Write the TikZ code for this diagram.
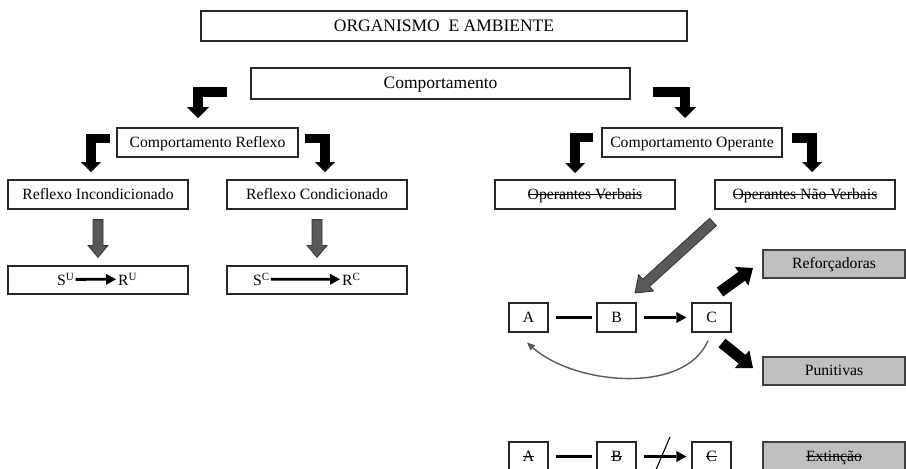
\documentclass[tikz,border=0pt]{standalone}
\usepackage{fontspec}
\setmainfont{Liberation Serif}
\usetikzlibrary{arrows.meta,calc}

\newcommand{\strk}[1]{\setbox0=\hbox{#1}\rlap{\rule[0.26em]{\wd0}{0.9pt}}\box0}

\newcommand{\blockarrow}[6]{%
  \coordinate (bah) at ($(#2)!#5!(#1)$);
  \path[#6] ($(#1)!#3!90:(#2)$) -- ($(bah)!#3!-90:(#1)$) -- ($(bah)!#4!-90:(#1)$) -- (#2)
    -- ($(bah)!#4!90:(#1)$) -- ($(bah)!#3!90:(#1)$) -- ($(#1)!#3!-90:(#2)$) -- cycle;}

\begin{document}
\begin{tikzpicture}[x=1pt,y=-1pt,
  rbox/.style={draw=black!85, line width=1.2pt, fill=white, minimum width=180pt,
    minimum height=29pt, inner sep=0pt, font=\fontsize{15.7}{18}\selectfont,
    text height=12pt, text depth=3pt},
  bigbox/.style={rbox, font=\fontsize{17.5}{20}\selectfont, text height=13.5pt,
    text depth=3.5pt, minimum height=30pt},
  sbox/.style={rbox, minimum width=39pt},
  graybox/.style={rbox, fill=black!25, draw=black!75, minimum width=142pt, minimum height=28pt},
  plaintext/.style={inner sep=0pt, font=\fontsize{15.7}{18}\selectfont},
  bent/.style={line width=10pt, -{Triangle[width=22pt,length=11pt,line width=0pt]}},
  bentsmall/.style={line width=9.5pt, -{Triangle[width=20pt,length=10pt,line width=0pt]}},
  grayarrow/.style={fill=black!65, draw=black!80, line width=0.8pt},
  blackarrow/.style={fill=black},
  thickline/.style={line width=2.8pt},
  thickarrow/.style={line width=2.8pt, -{Triangle[width=11pt,length=10pt,line width=0pt]}},
  loopline/.style={draw=black!65, line width=1.4pt, -{Triangle[width=7pt,length=8pt,line width=0pt]}}
]
\useasboundingbox (0,0) rectangle (906,469);
\clip (0,0) rectangle (906,469);

% top boxes
\node[bigbox, minimum width=486pt] (org) at (444,26) {ORGANISMO\ \ E AMBIENTE};
\node[bigbox, minimum width=379pt, minimum height=31pt] (comp) at (440.5,83.5) {Comportamento};

% left branch
\node[rbox, minimum width=181pt] (refl) at (207.5,142.5) {Comportamento Reflexo};
\node[rbox] (ri) at (98,194.5) {Reflexo Incondicionado};
\node[rbox] (rc) at (317,194.5) {Reflexo Condicionado};
\node[rbox, minimum height=28pt] (su) at (98,280) {};
\node[rbox, minimum height=28pt] (sc) at (317,280) {};
\node[plaintext, anchor=base west] (sU) at (57,285.5) {S\textsuperscript{U}};
\node[plaintext, anchor=base west] (rU) at (118,285.5) {R\textsuperscript{U}};
\node[plaintext, anchor=base west] (sC) at (253,285.5) {S\textsuperscript{C}};
\node[plaintext, anchor=base west] (rC) at (342,285.5) {R\textsuperscript{C}};
\draw[thickarrow, shorten <=1pt, shorten >=2pt] (sU.east) -- (rU.west);
\draw[thickarrow, shorten <=1pt, shorten >=2pt] (sC.east) -- (rC.west);

% right branch
\node[rbox] (oper) at (692,142.5) {Comportamento Operante};
\node[rbox] (ov) at (585,194.5) {\strk{Operantes Verbais}};
\node[rbox] (onv) at (805,194.5) {\strk{Operantes Não Verbais}};

% bent arrows
\coordinate (b1s) at (227,92); \coordinate (b1e) at (198,118);
\coordinate (b2s) at (653,91.5); \coordinate (b2e) at (685,118);
\coordinate (b3s) at (110,138.5); \coordinate (b3e) at (91,172);
\coordinate (b4s) at (305,138.5); \coordinate (b4e) at (325,172);
\coordinate (b5s) at (593,137.5); \coordinate (b5e) at (575,173);
\coordinate (b6s) at (792,138); \coordinate (b6e) at (812,172);
\draw[bent] (b1s) -| (b1e);
\draw[bent] (b2s) -| (b2e);
\draw[bentsmall] (b3s) -| (b3e);
\draw[bentsmall] (b4s) -| (b4e);
\draw[bentsmall] (b5s) -| (b5e);
\draw[bentsmall] (b6s) -| (b6e);

% gray down arrows
\coordinate (g1s) at ($(ri.south)+(0,10)$); \coordinate (g1e) at ($(su.north)+(0,-8)$);
\coordinate (g2s) at ($(rc.south)+(0,10)$); \coordinate (g2e) at ($(sc.north)+(0,-8)$);
\blockarrow{g1s}{g1e}{5pt}{10pt}{12pt}{grayarrow}
\blockarrow{g2s}{g2e}{5pt}{10pt}{12pt}{grayarrow}

% ABC chain
\node[sbox] (A) at (528.5,317.5) {A};
\node[sbox] (B) at (616.5,317.5) {B};
\node[sbox] (C) at (711.5,317.5) {C};
\draw[thickline, shorten <=7pt, shorten >=4pt] (A.east) -- (B.west);
\draw[thickarrow, shorten <=7pt, shorten >=5pt] (B.east) -- (C.west);

\node[graybox] (ref) at (834,264) {Reforçadoras};
\node[graybox] (pun) at (834,371) {Punitivas};

% diagonal gray arrow
\coordinate (d1s) at (713,222); \coordinate (d1e) at (635,293);
\blockarrow{d1s}{d1e}{5pt}{11pt}{15pt}{grayarrow}

% black arrows to consequences
\coordinate (k1s) at (720,292); \coordinate (k1e) at (753,268);
\coordinate (k2s) at (722,343); \coordinate (k2e) at (753,368);
\blockarrow{k1s}{k1e}{5.5pt}{11.5pt}{14pt}{blackarrow}
\blockarrow{k2s}{k2e}{5.5pt}{11.5pt}{14pt}{blackarrow}

% loop back arrow
\coordinate (cs) at ($(C.south)+(-3.5,8)$);
\coordinate (ce) at ($(A.south)+(-1.5,10)$);
\draw[loopline] (cs) .. controls (685,395) and (575,385) .. (ce);

% extinction row
\node[sbox] (A2) at (528.5,456.5) {\strk{A}};
\node[sbox] (B2) at (616.5,456.5) {\strk{B}};
\node[sbox] (C2) at (711.5,456.5) {\strk{C}};
\draw[thickline, shorten <=7pt, shorten >=4pt] (A2.east) -- (B2.west);
\draw[thickarrow, shorten <=7pt, shorten >=5pt] (B2.east) -- (C2.west);
\coordinate (sl1) at (655,472); \coordinate (sl2) at (670,437);
\draw[line width=1.1pt] (sl1) -- (sl2);
\node[graybox, minimum height=29pt] (ext) at (834,456.5) {\strk{Extinção}};
\end{tikzpicture}
\end{document}
